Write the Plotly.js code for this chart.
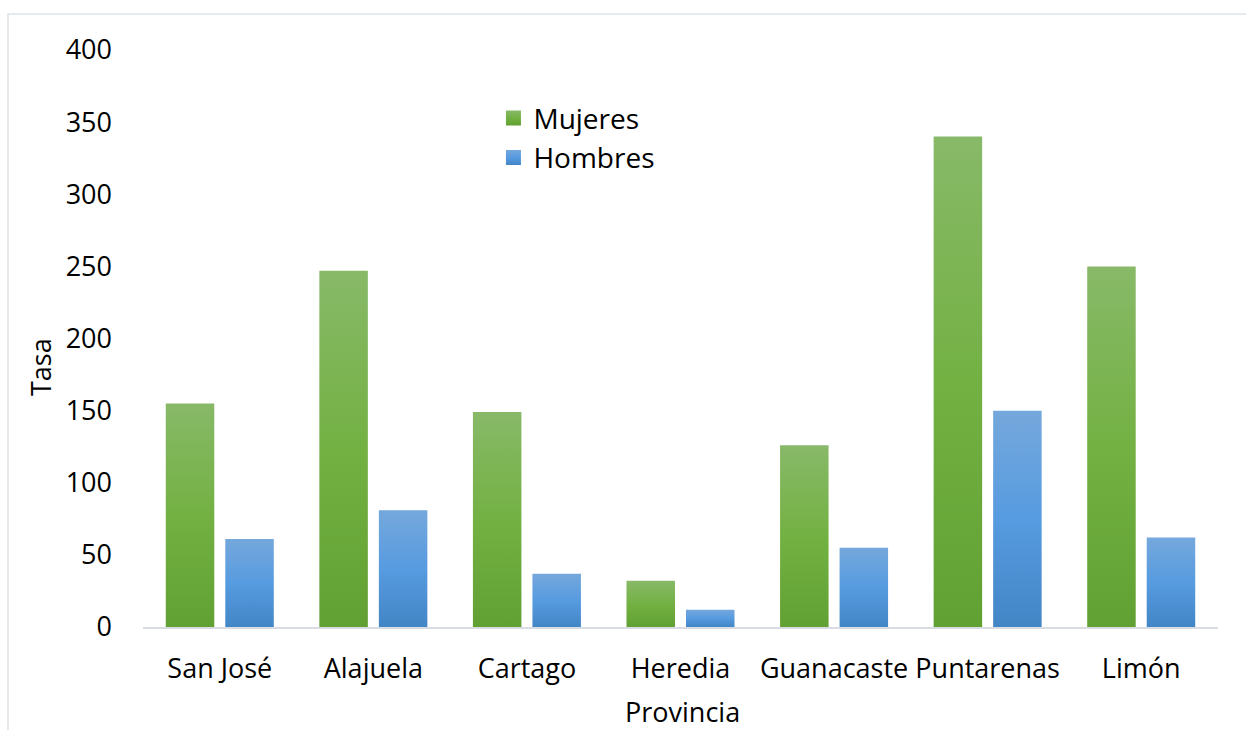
<!DOCTYPE html>
<html>
<head>
<meta charset="utf-8">
<script src="https://cdn.plot.ly/plotly-3.0.1.min.js"></script>
<style>
  html, body { margin: 0; padding: 0; background: #fff; }
  #chart { width: 1246px; height: 730px; }
</style>
</head>
<body>
<div id="chart"></div>
<script>
const provincias = ["San José", "Alajuela", "Cartago", "Heredia", "Guanacaste", "Puntarenas", "Limón"];
const mujeres = [155, 247, 149, 32, 126, 340, 250];
const hombres = [61, 81, 37, 12, 55, 150, 62];
const yTicks = [0, 50, 100, 150, 200, 250, 300, 350, 400];

const font = "'Open Sans', 'Noto Sans', sans-serif";

const traces = [
  { type: "bar", name: "Mujeres", x: provincias, y: mujeres, marker: { color: "#72af44" }, hoverinfo: "x+y" },
  { type: "bar", name: "Hombres", x: provincias, y: hombres, marker: { color: "#5a9bdc" }, hoverinfo: "x+y" }
];

const layout = {
  width: 1246, height: 730,
  margin: { l: 143, r: 28, t: 50, b: 103 },
  paper_bgcolor: "#ffffff", plot_bgcolor: "#ffffff",
  font: { family: font, size: 27, color: "#000000" },
  barmode: "group", bargap: 0.225, bargroupgap: 0.185,
  showlegend: true,
  legend: { x: 0.326, y: 0.925, xanchor: "left", yanchor: "top", bgcolor: "rgba(0,0,0,0)",
            font: { family: font, size: 28, color: "#000" }, tracegroupgap: 0 },
  xaxis: {
    type: "category", showgrid: false, zeroline: false,
    showline: true, linecolor: "#d9dde3", linewidth: 2,
    ticks: "", tickfont: { family: font, size: 27, color: "#000" }, ticklabelstandoff: 17
  },
  yaxis: {
    range: [0, 400], tickvals: yTicks, ticktext: yTicks.map(String),
    showgrid: false, zeroline: false, showline: false, ticks: "",
    tickfont: { family: font, size: 27, color: "#000" }, ticklabelstandoff: 30
  },
  annotations: [
    { text: "Provincia", xref: "paper", yref: "paper", x: 0.502, y: -0.146, xanchor: "center", yanchor: "middle",
      showarrow: false, font: { family: font, size: 27, color: "#000" } },
    { text: "Tasa", xref: "paper", yref: "paper", x: -0.0958, y: 0.4506, xanchor: "center", yanchor: "middle",
      textangle: -90, showarrow: false, font: { family: font, size: 27, color: "#000" } }
  ],
  shapes: [
    { type: "rect", xref: "paper", yref: "paper", x0: -0.1256, y0: -0.4, x1: 1.2, y1: 1.0624,
      line: { color: "#dde3ea", width: 1.5 }, fillcolor: "rgba(0,0,0,0)", layer: "below" }
  ]
};

Plotly.newPlot("chart", traces, layout, { displayModeBar: false, staticPlot: true }).then(function (gd) {
  const svg = gd.querySelector("svg.main-svg");
  const ns = "http://www.w3.org/2000/svg";
  let defs = svg.querySelector("defs");
  if (!defs) { defs = document.createElementNS(ns, "defs"); svg.insertBefore(defs, svg.firstChild); }
  function grad(id, c0, c1, c2) {
    const g = document.createElementNS(ns, "linearGradient");
    g.setAttribute("id", id); g.setAttribute("x1", "0"); g.setAttribute("y1", "0");
    g.setAttribute("x2", "0"); g.setAttribute("y2", "1");
    [[0, c0], [0.5, c1], [1, c2]].forEach(function (s) {
      const st = document.createElementNS(ns, "stop");
      st.setAttribute("offset", s[0]); st.setAttribute("stop-color", s[1]);
      g.appendChild(st);
    });
    defs.appendChild(g);
  }
  grad("gGreen", "#88b968", "#73b143", "#61a032");
  grad("gBlue", "#75a8dc", "#579be0", "#4386c6");
  const ids = ["gGreen", "gBlue"];
  gd.querySelectorAll(".barlayer .trace.bars").forEach(function (tr, i) {
    tr.querySelectorAll("path").forEach(function (p) { p.style.fill = "url(#" + ids[i] + ")"; });
  });
  gd.querySelectorAll(".legend .traces").forEach(function (tr, i) {
    tr.querySelectorAll(".legendpoints path").forEach(function (p) {
      p.setAttribute("d", "M7.5,7.5H-7.5V-7.5H7.5Z");
      p.style.fill = "url(#" + ids[i] + ")";
    });
  });
});
</script>
</body>
</html>
